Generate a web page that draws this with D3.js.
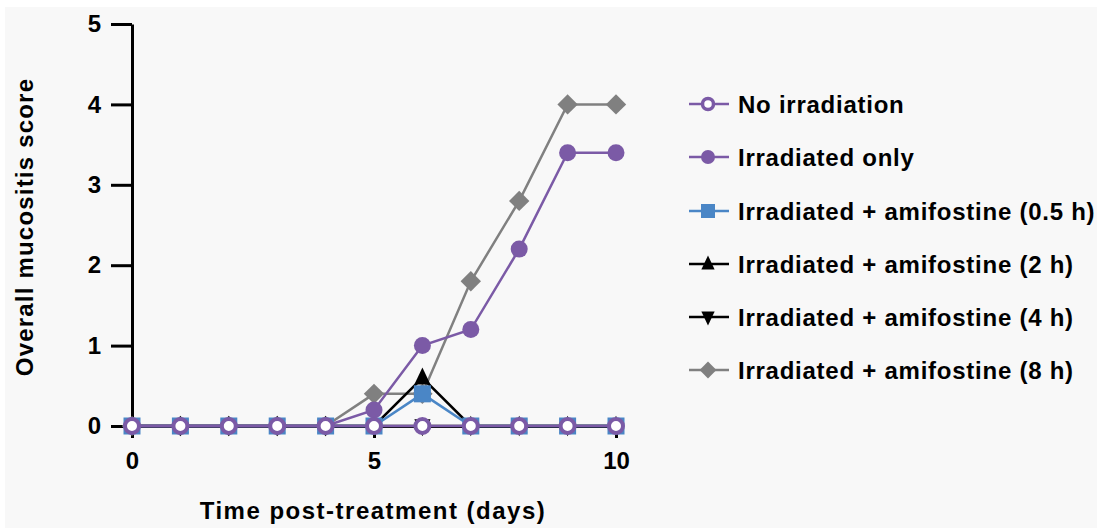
<!DOCTYPE html>
<html>
<head>
<meta charset="utf-8">
<script src="https://cdn.jsdelivr.net/npm/d3@7"></script>
<style>
  body { margin: 0; background: #ffffff; }
  svg { display: block; }
  text { font-family: "Liberation Sans", Arial, sans-serif; fill: #000; }
</style>
</head>
<body>
<div id="chart"></div>
<script>
// values
const days = [0, 1, 2, 3, 4, 5, 6, 7, 8, 9, 10]
const noIrradiation = [0, 0, 0, 0, 0, 0, 0, 0, 0, 0, 0]
const irradiatedOnly = [0, 0, 0, 0, 0, 0.2, 1.0, 1.2, 2.2, 3.4, 3.4]
const amifostine05 = [0, 0, 0, 0, 0, 0, 0.4, 0, 0, 0, 0]
const amifostine2 = [0, 0, 0, 0, 0, 0, 0.6, 0, 0, 0, 0]
const amifostine4 = [0, 0, 0, 0, 0, 0, 0, 0, 0, 0, 0]
const amifostine8 = [0, 0, 0, 0, 0, 0.4, 0.4, 1.8, 2.8, 4.0, 4.0]

const yTicks = [0, 1, 2, 3, 4, 5]
const xTicks = [0, 5, 10]

const seriesNames = [
  "No irradiation",
  "Irradiated only",
  "Irradiated + amifostine (0.5 h)",
  "Irradiated + amifostine (2 h)",
  "Irradiated + amifostine (4 h)",
  "Irradiated + amifostine (8 h)"
]
const seriesValues = [noIrradiation, irradiatedOnly, amifostine05, amifostine2, amifostine4, amifostine8]
const seriesColors = ["#7b5aa6", "#7b5aa6", "#4a86c6", "#000000", "#000000", "#808080"]
const seriesShapes = ["openCircle", "circle", "square", "triangle", "triangleDown", "diamond"]
// order the marks are painted (last on top)
const drawOrder = [5, 4, 3, 2, 1, 0]

let svgWidth = 1097
let svgHeight = 528

const svg = d3.select("#chart").append("svg")
  .attr("width", svgWidth)
  .attr("height", svgHeight)

svg.append("rect")
  .attr("x", 5).attr("y", 7)
  .attr("width", svgWidth - 5).attr("height", svgHeight - 7)
  .attr("fill", "#f8f8f8")

const x = d3.scaleLinear().domain([0, 10]).range([132, 616])
const y = d3.scaleLinear().domain([0, 5]).range([426, 24])

// marker path drawn around (0,0), r is the half size
function markerPath(shape, r) {
  const p = d3.path()
  if (shape === "circle" || shape === "openCircle") {
    p.arc(0, 0, r, 0, 2 * Math.PI)
  } else if (shape === "square") {
    p.rect(-r, -r, 2 * r, 2 * r)
  } else if (shape === "triangle") {
    p.moveTo(0, -r * 1.2); p.lineTo(r * 0.95, r * 0.8); p.lineTo(-r * 0.95, r * 0.8); p.closePath()
  } else if (shape === "triangleDown") {
    p.moveTo(0, r * 1.2); p.lineTo(r * 0.95, -r * 0.8); p.lineTo(-r * 0.95, -r * 0.8); p.closePath()
  } else {
    p.moveTo(0, -r * 1.2); p.lineTo(r * 1.2, 0); p.lineTo(0, r * 1.2); p.lineTo(-r * 1.2, 0); p.closePath()
  }
  return p.toString()
}

// axes
const xAxis = d3.axisBottom(x).tickValues(xTicks).tickSize(12).tickSizeOuter(0).tickPadding(14)
const yAxis = d3.axisLeft(y).tickValues(yTicks).tickFormat(d3.format("d")).tickSize(21).tickSizeOuter(0).tickPadding(10)

const gx = svg.append("g").attr("transform", "translate(0,426)").call(xAxis)
const gy = svg.append("g").attr("transform", "translate(132,0)").call(yAxis)

for (const g of [gx, gy]) {
  g.select(".domain").attr("stroke", "#000").attr("stroke-width", 3)
  g.selectAll(".tick line").attr("stroke", "#000").attr("stroke-width", 3)
  g.selectAll(".tick text")
    .attr("fill", "#000")
    .style("font-size", "24px")
    .style("font-weight", "bold")
    .style("font-family", "'Liberation Sans', Arial, sans-serif")
}

// axis titles
svg.append("text")
  .attr("x", 373).attr("y", 519)
  .attr("text-anchor", "middle")
  .style("font-size", "24px").style("font-weight", "bold")
  .style("letter-spacing", "1.5px")
  .text("Time post-treatment (days)")

svg.append("text")
  .attr("transform", "translate(33,227) rotate(-90)")
  .attr("text-anchor", "middle")
  .style("font-size", "24px").style("font-weight", "bold")
  .style("letter-spacing", "1.2px")
  .text("Overall mucositis score")

// lines and markers
const line = d3.line().x((d, i) => x(days[i])).y(d => y(d))
const plot = svg.append("g")

drawOrder.forEach(function (s) {
  const shape = seriesShapes[s]
  const open = shape === "openCircle"
  const grp = plot.append("g")
  grp.append("path")
    .datum(seriesValues[s])
    .attr("d", line)
    .attr("fill", "none")
    .attr("stroke", seriesColors[s])
    .attr("stroke-width", 2.5)

  grp.selectAll("path.pt")
    .data(seriesValues[s])
    .enter()
    .append("path")
    .attr("class", "pt")
    .attr("transform", (d, i) => "translate(" + x(days[i]) + "," + y(d) + ")")
    .attr("d", markerPath(shape, open ? 7 : 8.5))
    .attr("fill", open ? "#ffffff" : seriesColors[s])
    .attr("stroke", seriesColors[s])
    .attr("stroke-width", open ? 4 : 0)
})

// legend
const legendY = [104, 157, 211, 264, 317, 370]
const legend = svg.append("g")
seriesNames.forEach(function (name, s) {
  const shape = seriesShapes[s]
  const open = shape === "openCircle"
  const row = legend.append("g").attr("transform", "translate(0," + legendY[s] + ")")
  row.append("line")
    .attr("x1", 689).attr("x2", 729)
    .attr("stroke", seriesColors[s]).attr("stroke-width", 2.5)
  row.append("path")
    .attr("transform", "translate(708,0)")
    .attr("d", markerPath(shape, open ? 5.5 : 7))
    .attr("fill", open ? "#ffffff" : seriesColors[s])
    .attr("stroke", seriesColors[s])
    .attr("stroke-width", open ? 3.5 : 0)
  row.append("text")
    .attr("x", 738).attr("y", 8.5)
    .style("font-size", "24px").style("font-weight", "bold")
    .style("letter-spacing", "0.75px")
    .text(name)
})
</script>
</body>
</html>
